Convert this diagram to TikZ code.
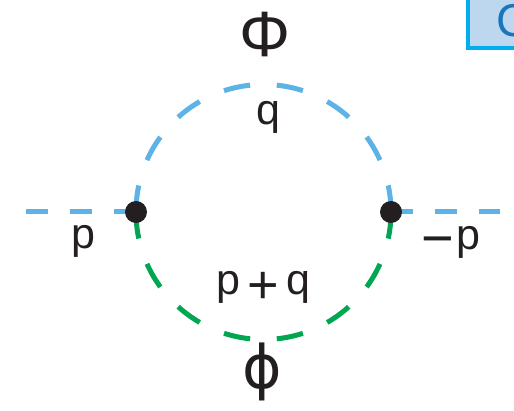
\documentclass[tikz,border=0pt]{standalone}
\usepackage{fontspec}
\setmainfont{Liberation Sans}
\newfontfamily\greekalt{DejaVu Sans}
\usepackage{xcolor}
\usetikzlibrary{positioning}
\definecolor{phiblue}{RGB}{93,179,230}
\definecolor{phigreen}{RGB}{0,166,81}
\definecolor{ink}{RGB}{35,31,32}
\definecolor{tagline}{RGB}{0,174,239}
\definecolor{tagfill}{RGB}{189,215,238}
\definecolor{tagtext}{RGB}{27,117,188}
\newcommand{\bigplus}{{\fontsize{54}{54}\selectfont\raisebox{-9pt}{+}}}
\newcommand{\bigminus}{\raisebox{-7.5pt}{\scalebox{1.3}{−}}}

\begin{document}
\begin{tikzpicture}[x=1pt, y=-1pt,
  prop/.style={line width=5pt, dash pattern=on 22pt off 22pt},
  loop/.style={line width=5pt, dash pattern=on 26.7pt off 26.7pt},
  vertex/.style={circle, fill=ink, inner sep=0pt, minimum size=22pt},
  lbl/.style={text=ink, inner sep=0pt, font=\fontsize{43}{48}\selectfont, anchor=base},
  fld/.style={text=ink, inner sep=0pt, font=\fontsize{64}{70}\selectfont}
]
  \useasboundingbox (0,0) rectangle (514,411);
  \clip (0,0) rectangle (514,411);

  \coordinate (vl) at (136,212);
  \coordinate (vr) at (391,212);
  \coordinate (pin) at (26,212);
  \coordinate (pout) at (500,212);

  % external legs
  \draw[prop, phiblue] (vl) -- (pin);
  \draw[prop, phiblue] (vr) -- (pout);
  % loop
  \draw[loop, phiblue] (vl) arc[start angle=180, end angle=0, radius=127.5pt];
  \draw[loop, phigreen] (vl) arc[start angle=180, end angle=360, radius=127.5pt];

  \node[vertex] (v1) at (vl) {};
  \node[vertex] (v2) at (vr) {};

  \node[fld] (Phi) at (265,35) {Φ};
  \node[fld, font=\fontsize{60}{66}\greekalt] (phi) at (262,372) {ϕ};
  \node[lbl] (q) at (268,125) {q};
  \node[lbl] (pl) at (83,249) {p};
  \node[lbl] (pr) at (451,250) {\bigminus\kern2pt p};
  \node[lbl] (pq) at (263.5,295) {p\kern7pt\bigplus\kern7pt q};

  \node[draw=tagline, line width=3.5pt, fill=tagfill, text=tagtext, anchor=south west,
    inner xsep=20pt, inner ysep=11pt, minimum width=90pt, align=left,
    font=\fontsize{46}{50}\selectfont] (tag) at (466,50) {C};
\end{tikzpicture}
\end{document}
